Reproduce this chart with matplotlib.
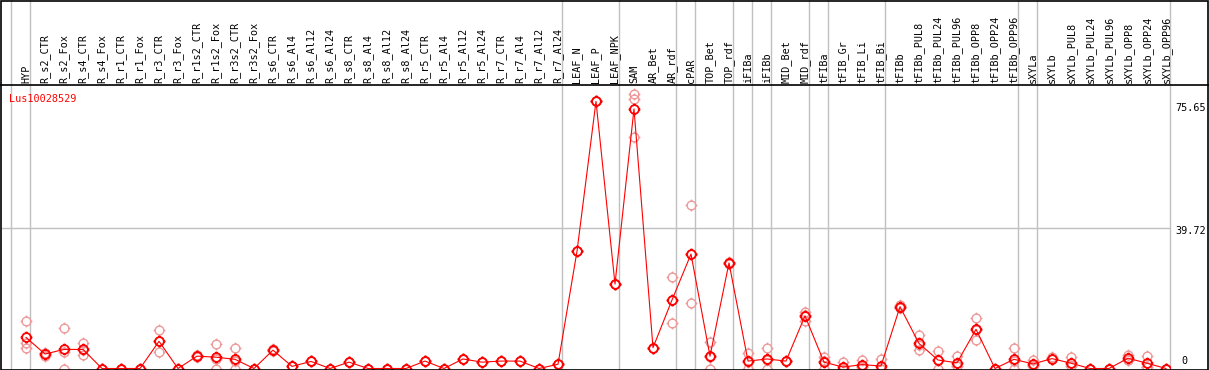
import matplotlib
matplotlib.use("Agg")
import matplotlib.pyplot as plt
import numpy as np
from matplotlib.path import Path
from matplotlib.lines import Line2D

# sample names along the top
samples = ["HYP", "R_s2_CTR", "R_s2_Fox", "R_s4_CTR", "R_s4_Fox", "R_r1_CTR", "R_r1_Fox",
           "R_r3_CTR", "R_r3_Fox", "R_r1s2_CTR", "R_r1s2_Fox", "R_r3s2_CTR", "R_r3s2_Fox",
           "R_s6_CTR", "R_s6_Al4", "R_s6_Al12", "R_s6_Al24", "R_s8_CTR", "R_s8_Al4",
           "R_s8_Al12", "R_s8_Al24", "R_r5_CTR", "R_r5_Al4", "R_r5_Al12", "R_r5_Al24",
           "R_r7_CTR", "R_r7_Al4", "R_r7_Al12", "R_r7_Al24", "LEAF_N", "LEAF_P", "LEAF_NPK",
           "SAM", "AR_Bet", "AR_rdf", "cPAR", "TOP_Bet", "TOP_rdf", "iFIBa", "iFIBb",
           "MID_Bet", "MID_rdf", "tFIBa", "tFIB_Gr", "tFIB_Li", "tFIB_Bi", "tFIBb",
           "tFIBb_PUL8", "tFIBb_PUL24", "tFIBb_PUL96", "tFIBb_OPP8", "tFIBb_OPP24",
           "tFIBb_OPP96", "sXYLa", "sXYLb", "sXYLb_PUL8", "sXYLb_PUL24", "sXYLb_PUL96",
           "sXYLb_OPP8", "sXYLb_OPP24", "sXYLb_OPP96"]

# first sample of each tissue group (gray separators)
group_starts = [0, 1, 29, 32, 35, 36, 38, 39, 40, 42, 43, 46, 53, 54, 61]

means = [8.8, 4.1, 5.4, 5.4, 0, 0, 0, 7.7, 0, 3.5, 3.2, 2.6, 0, 5.2, 0.6, 2.0, 0, 1.8, 0,
         0, 0, 2.1, 0, 2.7, 1.8, 2.1, 2.1, 0, 1.2, 33.2, 75.65, 23.9,
         73.5, 5.9, 19.4, 32.4, 3.5, 29.9, 2.1, 2.7, 2.1, 14.9, 1.8, 0.4, 1.1, 0.7, 17.5,
         7.1, 2.4, 1.6, 11.1, 0, 2.6, 1.3, 2.8, 1.5, 0, 0, 2.9, 1.5, 0]

rep1 = [13.4, 4.3, 11.5, 7.3, 0, 0, 0, 10.8, 0, 3.3, 6.9, 5.7, 0, 5.2, 0.6, 2.0, 0, 1.8, 0,
        0, 0, 2.1, 0, 2.7, 1.8, 2.1, 2.1, 0, 1.2, 33.2, 75.65, 23.9,
        77.6, 5.9, 25.8, 46.4, 7.4, 29.6, 4.5, 5.8, 2.1, 15.9, 3.3, 1.8, 2.4, 2.8, 18.1,
        9.4, 4.9, 3.5, 14.3, 0, 5.7, 2.4, 3.2, 3.2, 0, 0, 3.9, 3.5, 0]
rep2 = [5.7, 3.6, 0, 3.8, 0, 0, 0, 4.6, 0, 3.7, 0, 0, 0, 5.4, 0.6, 2.0, 0, 1.8, 0,
        0, 0, 2.1, 0, 2.7, 1.8, 2.1, 2.1, 0, 1.2, 33.2, 75.65, 23.9,
        65.6, 5.9, 12.9, 18.5, 0, 30.0, 0, 0, 2.1, 13.5, 0, 0, 0.5, 0, 17.1,
        5.2, 0, 0.6, 8.0, 0, 0, 0.8, 2.6, 0.7, 0, 0, 2.4, 0.5, 0]
rep3 = [7.3, 4.4, 4.7, 5.1, 0, 0, 0, 7.7, 0, 3.5, 2.7, 2.1, 0, 5.0, 0.6, 2.0, 0, 1.8, 0,
        0, 0, 2.1, 0, 2.7, 1.8, 2.1, 2.1, 0, 1.2, 33.2, 75.65, 23.9,
        76.3, 5.9, 19.4, 32.4, 3.2, 30.1, 1.9, 2.3, 2.1, 15.2, 2.1, 0, 0.4, 0, 17.3,
        6.7, 2.3, 0.7, 11.0, 0, 2.1, 0.7, 2.6, 0.6, 0, 0, 2.4, 0.5, 0]

gene = "Lus10028529"
y_marks = [0, 39.72, 75.65]

# circle with four little ticks, like the old bitmap marker
circ = Path.unit_circle()
tick_verts = [(0, 1), (0, 1.35), (0, -1), (0, -1.35), (1, 0), (1.35, 0), (-1, 0), (-1.35, 0)]
tick_codes = [Path.MOVETO, Path.LINETO] * 4
ticks = Path(tick_verts, tick_codes)
marker = Path.make_compound_path(circ, ticks)

W, H = 1209, 370
fig = plt.figure(figsize=(W / 100, H / 100), dpi=100)
plt.rcParams['font.family'] = 'DejaVu Sans Mono'

# plot area in pixels: x 2..1170, y 85..368.5
ax = fig.add_axes([2 / W, 1.5 / H, 1168 / W, 283.5 / H])
x = np.arange(len(samples))
ax.set_xlim((2 - 26) / 19, (1170 - 26) / 19)
ax.set_ylim(0, 283.5 / 3.532)

grey = "#c0c0c0"
for g in group_starts:
    ax.axvline(g - 15 / 19, ymin=0, ymax=1 + 85 / 283.5, color=grey, lw=1, clip_on=False, zorder=1)
ax.axhline(y_marks[1], color=grey, lw=1, zorder=1)

pale = "#ee9a9a"
for r in (rep1, rep2, rep3):
    ax.plot(x, r, linestyle="none", marker=marker, markersize=8.5, markerfacecolor="none",
            markeredgecolor=pale, markeredgewidth=1.0, clip_on=True, zorder=2)
ax.plot(x, means, color="red", lw=0.8, zorder=3)
ax.plot(x, means, linestyle="none", marker=marker, markersize=8.5, markerfacecolor="none",
        markeredgecolor="red", markeredgewidth=1.3, zorder=4)

ax.xaxis.tick_top()
ax.set_xticks(x)
ax.set_xticklabels(samples, rotation=90, fontsize=7.3)
ax.tick_params(axis="x", length=0, pad=1.5)
ax.set_yticks([])
for s in ax.spines.values():
    s.set_visible(False)

ax.text(7 / 1168, 1 - 14 / 283.5, gene, transform=ax.transAxes, color="red",
        fontsize=7.3, ha="left", va="center")

ytr = ax.get_yaxis_transform()
ax.annotate(f"{y_marks[2]:.2f}", xy=(1, y_marks[2]), xycoords=ytr, xytext=(5, -7),
            textcoords="offset pixels", ha="left", va="center", fontsize=7.3)
ax.annotate(f"{y_marks[1]:.2f}", xy=(1, y_marks[1]), xycoords=ytr, xytext=(5, -3),
            textcoords="offset pixels", ha="left", va="center", fontsize=7.3)
ax.annotate("0", xy=(1, y_marks[0]), xycoords=ytr, xytext=(11, 7),
            textcoords="offset pixels", ha="left", va="center", fontsize=7.3)

# frame and header separator
fig.add_artist(Line2D([0, 1], [1 - 85 / H, 1 - 85 / H], color="black", lw=1.2))
fig.add_artist(plt.Rectangle((0.5 / W, 0.5 / H), 1 - 1.5 / W, 1 - 1.5 / H, fill=False,
                             edgecolor="black", lw=1.2, transform=fig.transFigure))

fig.savefig("out.png", dpi=100)
